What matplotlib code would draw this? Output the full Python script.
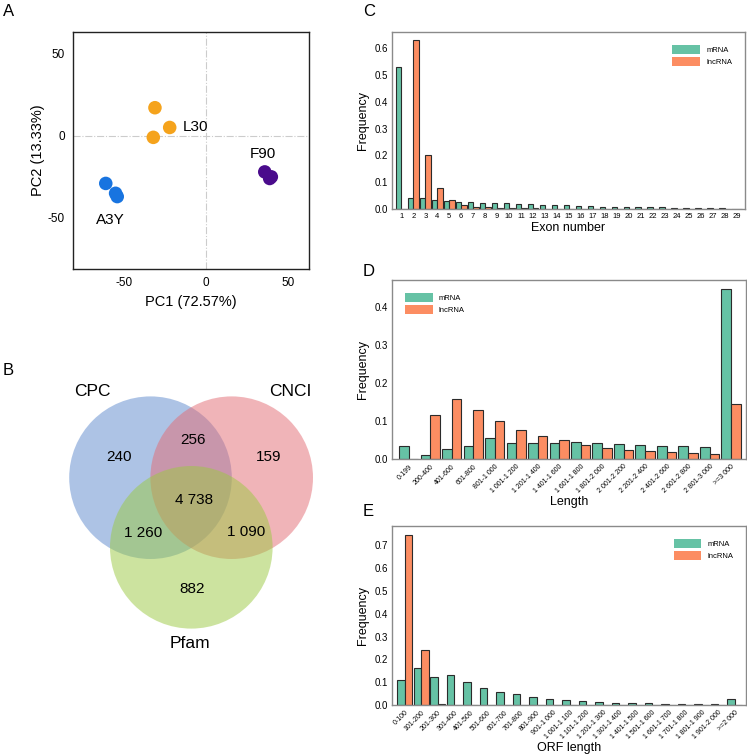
import matplotlib
matplotlib.use("Agg")
import matplotlib.pyplot as plt
from matplotlib.patches import Circle, Patch
import numpy as np

plt.rcParams['font.family'] = ['Liberation Sans', 'DejaVu Sans']
plt.rcParams['axes.unicode_minus'] = False

# --- panel A: PCA
pc1 = [-31, -22, -32, -61, -55, -54, 36, 40, 39]
pc2 = [17, 5, -1, -29, -35, -37, -22, -25, -26]
pca_group = ['L30', 'L30', 'L30', 'A3Y', 'A3Y', 'A3Y', 'F90', 'F90', 'F90']
group_colors = {'L30': '#f5a31c', 'A3Y': '#1874e0', 'F90': '#4a0b8c'}
group_label_pos = {'L30': (-14, 5), 'A3Y': (-58, -51), 'F90': (35, -11)}

# --- panel B: Venn counts
venn_sets = ['CPC', 'CNCI', 'Pfam']
venn_counts = {'CPC': 240, 'CNCI': 159, 'Pfam': 882,
               'CPC&CNCI': 256, 'CPC&Pfam': 1260, 'CNCI&Pfam': 1090,
               'all': 4738}

# --- panel C: exon number
exon_cats = [str(i) for i in range(1, 30)]
exon_mrna = [0.530, 0.042, 0.042, 0.033, 0.030, 0.027, 0.025, 0.022, 0.022, 0.021,
             0.019, 0.017, 0.015, 0.014, 0.013, 0.012, 0.010, 0.009, 0.008, 0.008,
             0.007, 0.007, 0.006, 0.005, 0.004, 0.004, 0.003, 0.003, 0.001]
exon_lnc = [0.0, 0.632, 0.200, 0.078, 0.032, 0.015, 0.009, 0.007, 0.004, 0.005,
            0.003, 0.002, 0.001, 0.001, 0.001, 0.0, 0.0, 0.0, 0.0, 0.0,
            0.0, 0.0, 0.0, 0.0, 0.0, 0.0, 0.0, 0.0, 0.0]

# --- panel D: transcript length
len_cats = ['0-199', '200-400', '401-600', '601-800', '801-1 000', '1 001-1 200',
            '1 201-1 400', '1 401-1 600', '1 601-1 800', '1 801-2 000', '2 001-2 200',
            '2 201-2 400', '2 401-2 600', '2 601-2 800', '2 801-3 000', '>=3 000']
len_mrna = [0.035, 0.010, 0.026, 0.035, 0.054, 0.043, 0.041, 0.043, 0.044, 0.041,
            0.040, 0.037, 0.035, 0.033, 0.031, 0.447]
len_lnc = [0.0, 0.116, 0.158, 0.128, 0.100, 0.075, 0.061, 0.049, 0.038, 0.028,
           0.023, 0.020, 0.019, 0.017, 0.014, 0.145]

# --- panel E: ORF length
orf_cats = ['0-100', '101-200', '201-300', '301-400', '401-500', '501-600', '601-700',
            '701-800', '801-900', '901-1 000', '1 001-1 100', '1 101-1 200',
            '1 201-1 300', '1 301-1 400', '1 401-1 500', '1 501-1 600', '1 601-1 700',
            '1 701-1 800', '1 801-1 900', '1 901-2 000', '>=2 000']
orf_mrna = [0.108, 0.162, 0.121, 0.132, 0.100, 0.076, 0.057, 0.050, 0.035, 0.028,
            0.021, 0.017, 0.014, 0.010, 0.010, 0.007, 0.006, 0.005, 0.005, 0.004, 0.028]
orf_lnc = [0.748, 0.243, 0.005, 0, 0, 0, 0, 0, 0, 0, 0, 0, 0, 0, 0, 0, 0, 0, 0, 0, 0]

MRNA_COL = '#66c2a5'
LNC_COL = '#fc8d62'

fig = plt.figure(figsize=(7.47, 7.55), dpi=100)


def panel_letter(x, y, s):
    fig.text(x / 747, 1 - y / 755, s, fontsize=12, ha='left', va='center')


# ---------------- A
ax = fig.add_axes([0.0977, 0.6437, 0.316, 0.3139])
ax.axhline(0, color='#cccccc', lw=0.8, ls='-.', zorder=0)
ax.axvline(0, color='#cccccc', lw=0.8, ls='-.', zorder=0)
for g, c in group_colors.items():
    xs = [x for x, gg in zip(pc1, pca_group) if gg == g]
    ys = [y for y, gg in zip(pc2, pca_group) if gg == g]
    ax.scatter(xs, ys, s=95, color=c, edgecolors='none', zorder=3)
    lx, ly = group_label_pos[g]
    ha = 'left' if g == 'L30' else 'center'
    ax.text(lx, ly, g, fontsize=11, ha=ha, va='center')
ax.set_xlim(-81, 63)
ax.set_ylim(-81, 63)
ax.set_xticks([-50, 0, 50])
ax.set_yticks([-50, 0, 50])
ax.tick_params(length=0, labelsize=8.5, pad=6)
ax.set_xlabel('PC1 (72.57%)', fontsize=10.5, labelpad=4)
ax.set_ylabel('PC2 (13.33%)', fontsize=10.5, labelpad=2)
for sp in ax.spines.values():
    sp.set_color('#222222')
    sp.set_linewidth(1)
panel_letter(3, 12, 'A')

# ---------------- B (Venn, axes in pixel units)
vax = fig.add_axes([0, 1 - 680 / 755, 340 / 747, 320 / 755])
vax.set_xlim(0, 340)
vax.set_ylim(680, 360)
vax.axis('off')
venn_circles = {'CPC': ((150.5, 477.7), '#5d89cd'),
                'CNCI': ((231.7, 477.7), '#e36b73'),
                'Pfam': ((191.3, 547.3), '#9bc941')}
for name in venn_sets:
    (cx, cy), col = venn_circles[name]
    vax.add_patch(Circle((cx, cy), 81.3, facecolor=col, alpha=0.5, edgecolor='none'))
region_pos = {'CPC': (119, 457), 'CNCI': (269, 457), 'Pfam': (192, 589),
              'CPC&CNCI': (193, 440), 'CPC&Pfam': (143, 533), 'CNCI&Pfam': (246, 532),
              'all': (194, 500)}
for k, v in venn_counts.items():
    x, y = region_pos[k]
    vax.text(x, y, f'{v:,}'.replace(',', ' '), fontsize=11, ha='center', va='center')
set_label_pos = {'CPC': (92, 391), 'CNCI': (290, 391), 'Pfam': (190, 643)}
for name in venn_sets:
    x, y = set_label_pos[name]
    vax.text(x, y, name, fontsize=12.5, ha='center', va='center')
panel_letter(3, 370, 'B')


# ---------------- C, D, E bar panels
def bar_panel(rect, cats, mrna, lnc, ymax, yticks, xlabel, legend_loc, rotate):
    ax = fig.add_axes(rect)
    x = np.arange(len(cats))
    w = 0.45
    ax.bar(x - w / 2, mrna, w, color=MRNA_COL, edgecolor='#2b2b2b', lw=0.8)
    ax.bar(x + w / 2, lnc, w, color=LNC_COL, edgecolor='#2b2b2b', lw=0.8)
    ax.set_xlim(-0.78, len(cats) - 0.3)
    ax.set_ylim(0, ymax)
    ax.set_yticks(yticks)
    ax.set_yticklabels([f'{t:.1f}' for t in yticks])
    ax.set_xticks(x)
    if rotate:
        ax.set_xticklabels(cats, rotation=45, ha='right', rotation_mode='anchor', fontsize=5)
    else:
        ax.set_xticklabels(cats, fontsize=5.5)
    ax.tick_params(length=0, pad=3)
    ax.tick_params(axis='y', labelsize=7)
    ax.set_ylabel('Frequency', fontsize=9, labelpad=4)
    ax.set_xlabel(xlabel, fontsize=9, labelpad=1)
    for sp in ax.spines.values():
        sp.set_color('#8a8a8a')
        sp.set_linewidth(1)
    handles = [Patch(facecolor=MRNA_COL, edgecolor='none', label='mRNA'),
               Patch(facecolor=LNC_COL, edgecolor='none', label='lncRNA')]
    ax.legend(handles=handles, loc=legend_loc, frameon=False, fontsize=5.5,
              handlelength=3.6, handleheight=1.4, borderaxespad=1.3, labelspacing=0.4)
    return ax


bar_panel([0.5248, 0.7232, 0.4726, 0.2344], exon_cats, exon_mrna, exon_lnc, 0.66,
          [0.0, 0.1, 0.2, 0.3, 0.4, 0.5, 0.6], 'Exon number', 'upper right', False)
panel_letter(363, 12, 'C')

bar_panel([0.5248, 0.392, 0.474, 0.237], len_cats, len_mrna, len_lnc, 0.47,
          [0.0, 0.1, 0.2, 0.3, 0.4], 'Length', 'upper left', True)
panel_letter(363, 272, 'D')

bar_panel([0.5248, 0.0662, 0.474, 0.237], orf_cats, orf_mrna, orf_lnc, 0.785,
          [0.0, 0.1, 0.2, 0.3, 0.4, 0.5, 0.6, 0.7], 'ORF length', 'upper right', True)
panel_letter(363, 512, 'E')

fig.savefig('out.png', dpi=100)
